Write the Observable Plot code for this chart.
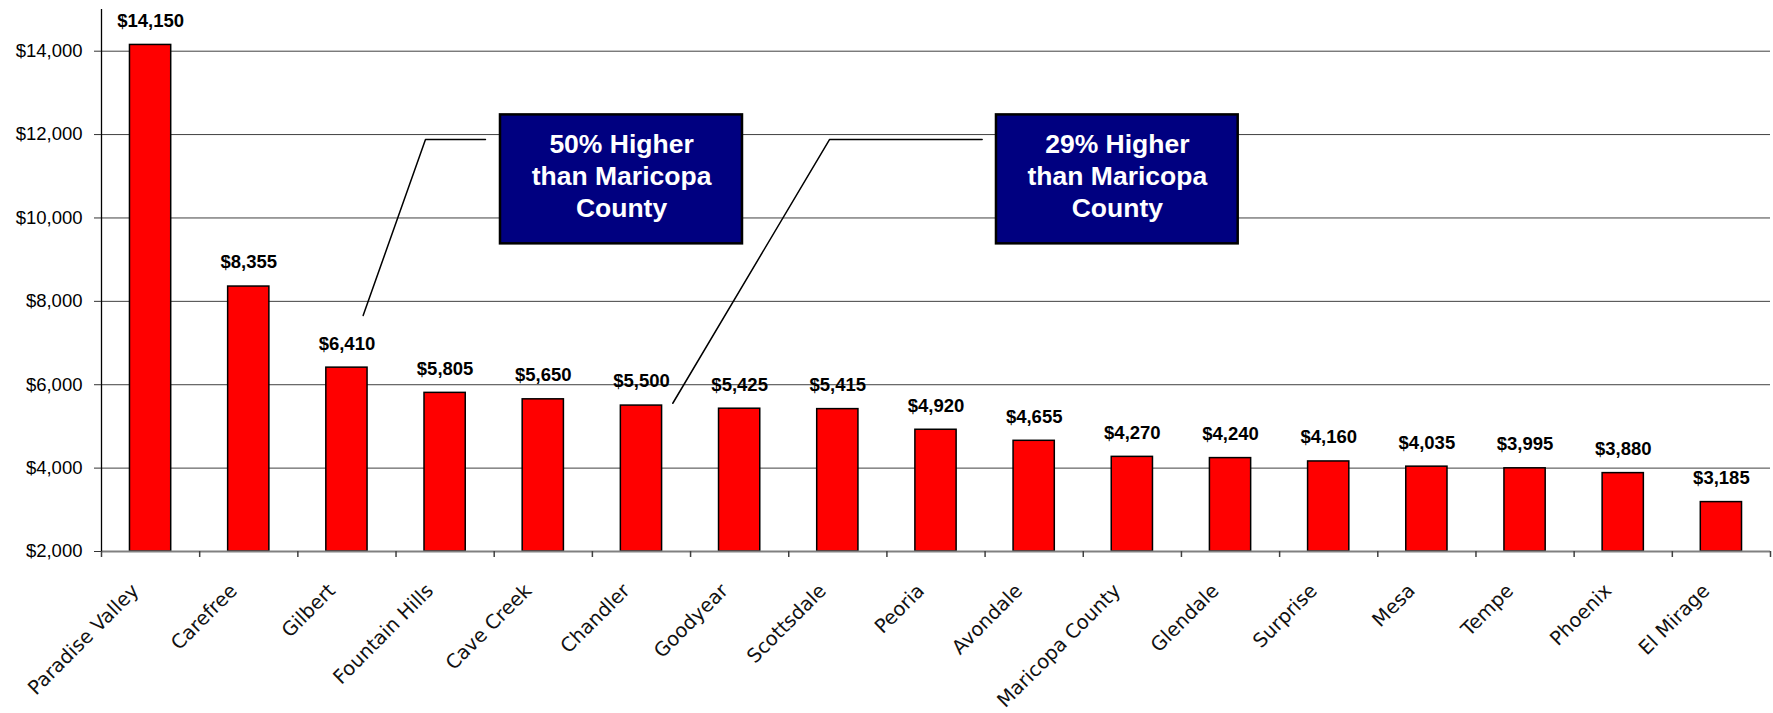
<!DOCTYPE html>
<html>
<head>
<meta charset="utf-8">
<script src="https://cdn.jsdelivr.net/npm/d3@7"></script>
<script src="https://cdn.jsdelivr.net/npm/@observablehq/plot@0.6"></script>
<style>
  html, body { margin: 0; padding: 0; background: #fff; }
  #chart svg { display: block; }
</style>
</head>
<body>
<div id="chart"></div>
<script>
// Cost per city, sorted from highest to lowest
const cities = [
  "Paradise Valley", "Carefree", "Gilbert", "Fountain Hills", "Cave Creek",
  "Chandler", "Goodyear", "Scottsdale", "Peoria", "Avondale",
  "Maricopa County", "Glendale", "Surprise", "Mesa", "Tempe", "Phoenix", "El Mirage"
];
const costs = [
  14150, 8355, 6410, 5805, 5650,
  5500, 5425, 5415, 4920, 4655,
  4270, 4240, 4160, 4035, 3995, 3880, 3185
];
const yTicks = [2000, 4000, 6000, 8000, 10000, 12000, 14000];
const calloutTexts = ["50% Higher\nthan Maricopa\nCounty", "29% Higher\nthan Maricopa\nCounty"];

const rows = cities.map((city, i) => ({city, cost: costs[i], i}));
const slotEdges = d3.range(cities.length + 1);
const money = d => "$" + d3.format(",")(d);

// Each category occupies one unit on x; bars fill the middle 42% of it
const barGap = 0.29;

// Callout boxes and their leader lines, in category-index / dollar units
const callouts = [
  {x1: 4.064, x2: 6.529, y1: 9379, y2: 12472, tx: 5.297, ty: 11035, text: calloutTexts[0]},
  {x1: 9.116, x2: 11.578, y1: 9379, y2: 12472, tx: 10.347, ty: 11035, text: calloutTexts[1]}
];
const leaders = [
  [{x: 3.911, y: 11880}, {x: 3.300, y: 11880}, {x: 2.665, y: 7660}],
  [{x: 8.970, y: 11880}, {x: 7.415, y: 11880}, {x: 5.819, y: 5556}]
];

const chart = Plot.plot({
  width: 1773,
  height: 713,
  marginLeft: 101,
  marginRight: 3,
  marginTop: 9,
  marginBottom: 162,
  x: {domain: [0, cities.length], axis: null},
  y: {domain: [2000, 15000], axis: null},
  style: {fontFamily: "'Liberation Sans', Arial, sans-serif", background: "#fff", color: "#000"},
  marks: [
    // horizontal gridlines
    Plot.ruleY(yTicks.slice(1), {stroke: "#404040", strokeWidth: 1}),
    // bars
    Plot.rectY(rows, {
      x1: d => d.i + barGap,
      x2: d => d.i + 1 - barGap,
      y1: 2000,
      y2: "cost",
      fill: "#ff0000",
      stroke: "#000",
      strokeWidth: 1.5
    }),
    // value labels
    Plot.text(rows, {
      x: d => d.i + 0.5,
      y: "cost",
      text: d => money(d.cost),
      dy: -24,
      fontSize: 18.5,
      fontWeight: "bold",
      fill: "#000"
    }),
    // category labels
    Plot.text(rows, {
      x: d => d.i + 0.5,
      y: () => 2000,
      text: "city",
      rotate: -45,
      textAnchor: "end",
      lineAnchor: "middle",
      dx: -15,
      dy: 36,
      fontSize: 19.5,
      fontFamily: "'DejaVu Sans', sans-serif",
      fill: "#111"
    }),
    // axes
    Plot.ruleY([2000], {stroke: "#808080", strokeWidth: 2}),
    Plot.ruleX([0], {y1: 2000, y2: 15000, stroke: "#000", strokeWidth: 1.3}),
    Plot.axisY({
      ticks: yTicks,
      tickSize: 7,
      tickPadding: 12,
      tickFormat: money,
      fontSize: 18.5,
      stroke: "#333",
      label: null
    }),
    Plot.axisX({
      ticks: slotEdges,
      tickSize: 6,
      tickFormat: () => "",
      stroke: "#404040",
      strokeWidth: 1.5,
      label: null
    }),
    // callout leader lines
    ...leaders.map(pts => Plot.line(pts, {x: "x", y: "y", stroke: "#000", strokeWidth: 1.5})),
    // callout boxes
    Plot.rect(callouts, {x1: "x1", x2: "x2", y1: "y1", y2: "y2", fill: "#000080", stroke: "#000", strokeWidth: 2.5}),
    Plot.text(callouts, {
      x: "tx",
      y: "ty",
      text: "text",
      fill: "#fff",
      fontSize: 26.5,
      fontWeight: "bold",
      lineHeight: 1.2
    })
  ]
});

document.getElementById("chart").append(chart);
</script>
</body>
</html>
